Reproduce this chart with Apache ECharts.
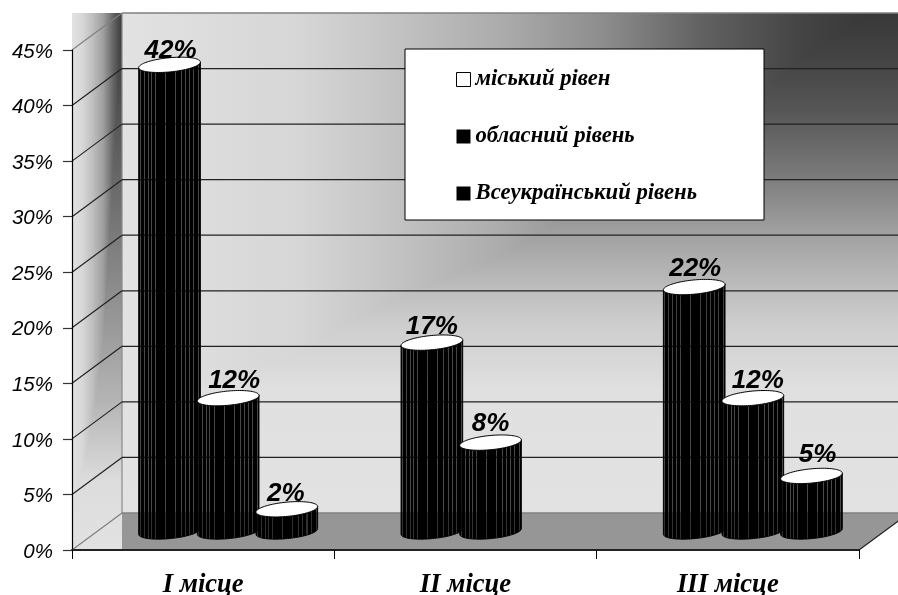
<!DOCTYPE html>
<html><head><meta charset="utf-8">
<style>html,body{margin:0;padding:0;background:#fff}#c{width:898px;height:595px}</style>
<script src="https://cdn.jsdelivr.net/npm/echarts@6/dist/echarts.min.js"></script>
</head><body><div id="c"></div>
<script>
var categories = ['I місце', 'II місце', 'III місце'];
var cityLevel = [42, 17, 22];
var regionLevel = [12, 8, 12];
var nationalLevel = [2, null, 5];
var seriesNames = ['міський рівен', 'обласний рівень', 'Всеукраїнський рівень'];
var yTicks = [0, 5, 10, 15, 20, 25, 30, 35, 40, 45];

var DX = 50, DY = -37;
var BAR_STEP = 0.2235, BAR_HALF = 0.118, MINOR = 7.1, TILT = -5.5 * Math.PI / 180;
var stripes = [2, 6, 10, 13, 17, 27, 37, 43, 47, 51, 55, 60];
var PLOT = { left: 72, right: 39, top: 50, bottom: 45 };
var LABEL_SHIFT = [
  [[0, 4], [-1, 2], [0, 0]],
  [[5, 1], [-1, -1], [4, 1]],
  [[-2, 3], [0, 0], [5, -3]]
];

function shade(x, y, w, h, hPts, vPts) {
  var cv = document.createElement('canvas');
  cv.width = Math.ceil(w); cv.height = Math.ceil(h);
  var c = cv.getContext('2d');
  var gh = c.createLinearGradient(0, 0, w, 0);
  hPts.forEach(function (p) { gh.addColorStop((p[0] - x) / w, p[1]); });
  c.fillStyle = gh; c.fillRect(0, 0, w, h);
  var gv = c.createLinearGradient(0, 0, 0, h);
  vPts.forEach(function (p) { gv.addColorStop((p[0] - y) / h, p[1]); });
  c.globalCompositeOperation = 'lighten';
  c.fillStyle = gv; c.fillRect(0, 0, w, h);
  return cv;
}
function stripeFill() {
  var stops = [], w = 62, s0 = 'rgba(0,0,0,0.68)';
  stops.push({ offset: 0, color: '#000' });
  stripes.forEach(function (s) {
    stops.push({ offset: (s - .5) / w, color: '#000' });
    stops.push({ offset: (s - .5) / w, color: s0 });
    stops.push({ offset: (s + .5) / w, color: s0 });
    stops.push({ offset: (s + .5) / w, color: '#000' });
  });
  stops.push({ offset: 1, color: '#000' });
  return { type: 'linear', x: 0, y: 0, x2: 1, y2: 0, colorStops: stops };
}
function ellipsePt(cx, cy, a, b, t) {
  var x = a * Math.cos(t), y = b * Math.sin(t);
  return [cx + x * Math.cos(TILT) - y * Math.sin(TILT), cy + x * Math.sin(TILT) + y * Math.cos(TILT)];
}
function cylinder(idx) {
  return function (params, api) {
    var v = api.value(1);
    if (isNaN(v)) return;
    var cat = api.value(0);
    var band = api.size([1, 0])[0];
    var top = api.coord([cat, v]);
    var base = api.coord([cat, 0]);
    var cx = top[0] + DX / 2 + (idx - 1) * band * BAR_STEP;
    var ty = top[1] + DY / 2, by = base[1] + DY / 2, a = band * BAR_HALF;
    var body = [], cap = [], i, sh = LABEL_SHIFT[idx][cat];
    for (i = 0; i <= 48; i++) { body.push(ellipsePt(cx, by, a, MINOR, Math.PI - Math.PI * i / 48)); }
    for (i = 0; i <= 48; i++) { body.push(ellipsePt(cx, ty, a, MINOR, Math.PI * i / 48)); }
    for (i = 0; i < 96; i++) { cap.push(ellipsePt(cx, ty, a, MINOR, 2 * Math.PI * i / 96)); }
    return { type: 'group', children: [
      { type: 'polygon', shape: { points: body }, style: { fill: stripeFill(), stroke: '#000', lineWidth: 1 } },
      { type: 'polygon', shape: { points: cap }, style: { fill: '#fff', stroke: '#000', lineWidth: 1 } },
      { type: 'text', z2: 10, style: { text: v + '%', x: cx + 1 + sh[0], y: ty - 18 + sh[1], fill: '#000', align: 'center', verticalAlign: 'middle',
        font: 'italic bold 26px "Liberation Sans"' } }
    ] };
  };
}
var wallCache = null;
function walls(params, api) {
  var g = params.coordSys, L = g.x, T = g.y, R = g.x + g.width, B = g.y + g.height;
  var bl = L + DX, bt = T + DY, bb = B + DY, br = R + DX;
  if (!wallCache) {
    wallCache = {
      back: shade(bl, bt, br - bl, bb - bt,
        [[bl, '#e2e2e2'], [300, '#d6d6d6'], [400, '#c2c2c2'], [500, '#acacac'], [600, '#8e8e8e'], [700, '#626262'], [800, '#444444'], [870, '#383838'], [br, '#383838']],
        [[bt, '#383838'], [60, '#444444'], [110, '#565656'], [170, '#777777'], [220, '#999999'], [270, '#b4b4b4'], [320, '#cccccc'], [390, '#e0e0e0'], [bb, '#e2e2e2']]),
      side: shade(L, bt, DX, B - bt,
        [[L, '#e2e2e2'], [82, '#d8d8d8'], [92, '#c0c0c0'], [103, '#a0a0a0'], [113, '#666666'], [bl, '#3a3a3a']],
        [[bt, '#3a3a3a'], [100, '#505050'], [200, '#6e6e6e'], [300, '#909090'], [400, '#b4b4b4'], [480, '#dcdcdc'], [B, '#e2e2e2']])
    };
  }
  var kids = [
    { type: 'image', style: { image: wallCache.back, x: bl, y: bt, width: br - bl, height: bb - bt } },
    { type: 'image', style: { image: wallCache.side, x: L, y: bt, width: DX, height: B - bt } },
    { type: 'polygon', shape: { points: [[bl, bb], [br, bb], [R, B], [bl, B]] }, style: { fill: '#969696' } },
    { type: 'line', shape: { x1: bl, y1: bt, x2: bl, y2: bb }, style: { stroke: '#8a8a8a', lineWidth: 1.2 } },
    { type: 'line', shape: { x1: br, y1: bb, x2: R, y2: B }, style: { stroke: '#222', lineWidth: 1.2 } }
  ];
  yTicks.forEach(function (t) {
    var p = api.coord([0, t]), edge = t === 45 || t === 0;
    var col = edge ? '#808080' : '#222';
    kids.push({ type: 'line', shape: { x1: L, y1: p[1], x2: bl, y2: p[1] + DY }, style: { stroke: col, lineWidth: 1.2 } });
    kids.push({ type: 'line', shape: { x1: bl, y1: p[1] + DY, x2: br, y2: p[1] + DY }, style: { stroke: col, lineWidth: 1.3 } });
  });
  return { type: 'group', children: kids };
}
function pairs(arr) {
  return arr.map(function (v, i) { return [i, v == null ? '-' : v]; });
}
var chart = echarts.init(document.getElementById('c'), null, { renderer: 'canvas' });
chart.setOption({
  animation: false,
  backgroundColor: '#fff',
  grid: { left: PLOT.left, right: PLOT.right, top: PLOT.top, bottom: PLOT.bottom, containLabel: false, outerBoundsMode: 'none' },
  legend: {
    show: true, orient: 'vertical', left: 405, top: 49, padding: [19, 67, 15, 51],
    backgroundColor: '#fff', borderColor: '#000', borderWidth: 1, borderRadius: 0,
    itemWidth: 14, itemHeight: 14, itemGap: 34, icon: 'rect', selectedMode: false,
    textStyle: { fontFamily: '"Liberation Serif"', fontStyle: 'italic', fontWeight: 'bold', fontSize: 22.7, color: '#000' },
    data: [
      { name: seriesNames[0], itemStyle: { color: '#fff', borderColor: '#000', borderWidth: 1 } },
      { name: seriesNames[1], itemStyle: { color: '#000' } },
      { name: seriesNames[2], itemStyle: { color: '#000' } }
    ]
  },
  xAxis: {
    type: 'category', data: categories, z: 3,
    axisLine: { show: true, lineStyle: { color: '#222', width: 2 } },
    axisTick: { show: true, length: 9, lineStyle: { color: '#000', width: 1 } },
    axisLabel: { margin: 22, color: '#000', fontFamily: '"Liberation Serif"', fontStyle: 'italic', fontWeight: 'bold', fontSize: 26.6 }
  },
  yAxis: {
    type: 'value', min: 0, max: 45, interval: 5, z: 3,
    axisLine: { show: true, lineStyle: { color: '#000', width: 1.2 } },
    axisTick: { show: true, length: 9, lineStyle: { color: '#333', width: 1.2 } },
    splitLine: { show: false },
    axisLabel: { margin: 19, formatter: '{a|{value}%}',
      rich: { a: { color: '#000', fontFamily: '"Liberation Sans"', fontStyle: 'italic', fontSize: 20.5, padding: [4, 0, 0, 0] } } }
  },
  series: [
    { type: 'custom', name: 'walls', z: 1, silent: true, clip: false, renderItem: walls, data: [[0, 0]], encode: { x: 0, y: 1 } },
    { type: 'custom', name: seriesNames[0], z: 4, clip: false, itemStyle: { color: '#fff' }, renderItem: cylinder(0), data: pairs(cityLevel), encode: { x: 0, y: 1 } },
    { type: 'custom', name: seriesNames[1], z: 5, clip: false, itemStyle: { color: '#000' }, renderItem: cylinder(1), data: pairs(regionLevel), encode: { x: 0, y: 1 } },
    { type: 'custom', name: seriesNames[2], z: 6, clip: false, itemStyle: { color: '#000' }, renderItem: cylinder(2), data: pairs(nationalLevel), encode: { x: 0, y: 1 } }
  ]
});
</script></body></html>
